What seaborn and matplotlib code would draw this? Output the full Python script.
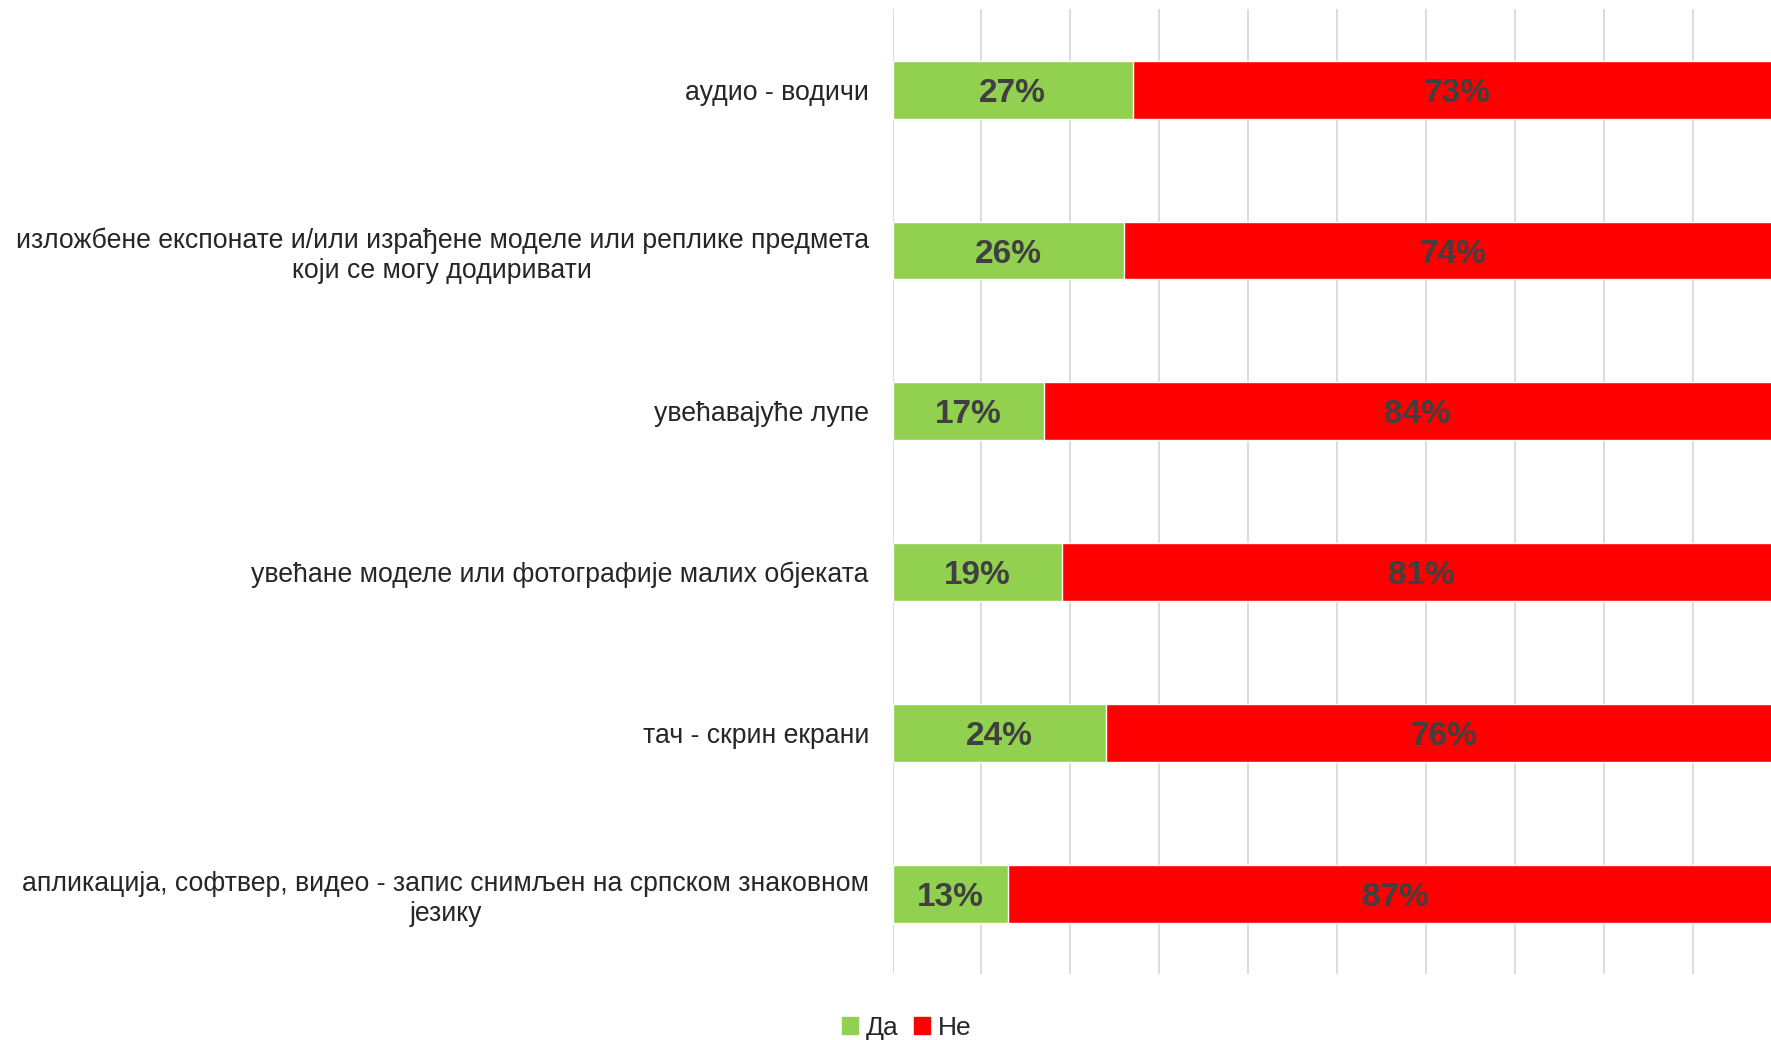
import matplotlib
matplotlib.use("Agg")
import matplotlib.pyplot as plt
import seaborn as sns
import pandas as pd
from matplotlib.patches import Patch

categories = [
    "аудио - водичи",
    "изложбене експонате и/или израђене моделе или реплике предмета\nкоји се могу додиривати",
    "увећавајуће лупе",
    "увећане моделе или фотографије малих објеката",
    "тач - скрин екрани",
    "апликација, софтвер, видео - запис снимљен на српском знаковном\nјезику",
]
da = [27, 26, 17, 19, 24, 13]
ne = [73, 74, 84, 81, 76, 87]
series_names = ["Да", "Не"]

green = "#92D050"
red = "#FF0000"

df = pd.DataFrame({"cat": categories, "da": da, "ne": ne})
df["total"] = df["da"] + df["ne"]

sns.set_style("white")
plt.rcParams["font.family"] = ["Liberation Sans", "DejaVu Sans"]

fig = plt.figure(figsize=(17.71, 10.40), dpi=100)
ax = fig.add_axes([0.504, 0.0635, 0.502, 0.9275])

# stacked look: full bar in red, green share drawn over it
sns.barplot(data=df, x="total", y="cat", color=red, width=0.36, saturation=1, ax=ax, zorder=2)
sns.barplot(data=df, x="da", y="cat", color=green, width=0.36, saturation=1, ax=ax, zorder=3)

for i, row in df.iterrows():
    ax.text(row["da"] / 2, i, f"{row['da']}%", ha="center", va="center_baseline",
            fontsize=24, fontweight="bold", color="#404040", zorder=4)
    ax.text(row["da"] + row["ne"] / 2, i, f"{row['ne']}%", ha="center", va="center_baseline",
            fontsize=24, fontweight="bold", color="#404040", zorder=4)

ax.set_xlim(0, 100)
ax.set_ylim(5.5, -0.5)
ax.set_xticks(range(0, 101, 10))
ax.xaxis.grid(True, color="#D9D9D9", linewidth=1.3, zorder=0)
ax.set_axisbelow(True)
ax.set_xticklabels([])
ax.tick_params(axis="x", length=0)
ax.tick_params(axis="y", length=0, pad=17, labelsize=19.2)
for t in ax.get_yticklabels():
    t.set_multialignment("center")
    t.set_linespacing(1.22)
ax.set_xlabel("")
ax.set_ylabel("")
for s in ax.spines.values():
    s.set_visible(False)

handles = [Patch(color=green), Patch(color=red)]
fig.legend(handles, series_names, loc="center", bbox_to_anchor=(0.512, 0.012),
           ncol=2, frameon=False, fontsize=19, handlelength=0.6, handleheight=0.6,
           handletextpad=0.3, columnspacing=0.6)

fig.savefig("out.png", dpi=100)
